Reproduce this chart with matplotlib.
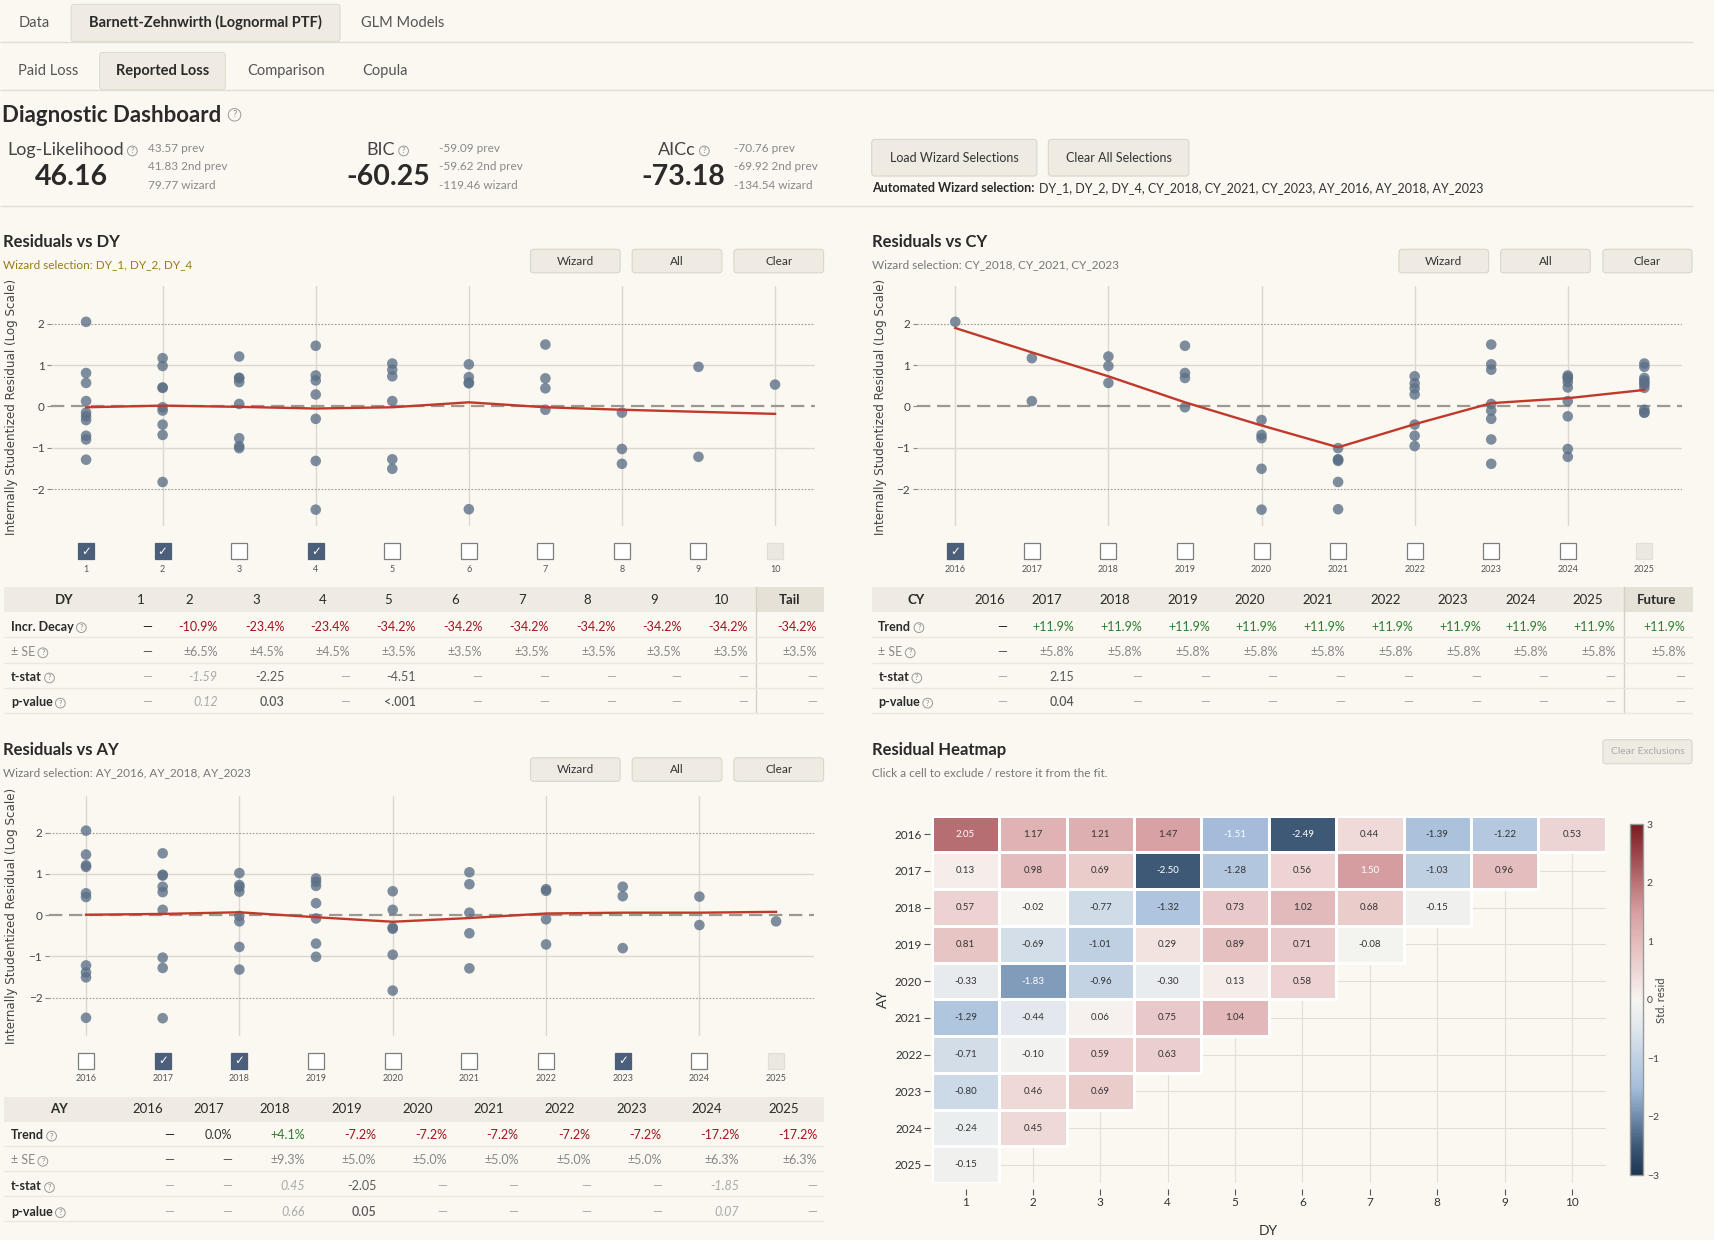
import matplotlib
matplotlib.use("Agg")
import matplotlib.pyplot as plt
import matplotlib.transforms as mtransforms
import numpy as np
from matplotlib.patches import Rectangle, FancyBboxPatch
from matplotlib.colors import LinearSegmentedColormap, Normalize
from matplotlib.cm import ScalarMappable

plt.rcParams["font.family"] = ["Lato", "DejaVu Sans"]

# ---------------- data ----------------
accident_years = [2016, 2017, 2018, 2019, 2020, 2021, 2022, 2023, 2024, 2025]
dev_years = [1, 2, 3, 4, 5, 6, 7, 8, 9, 10]

# internally studentized residuals, one row per accident year
resid = [
    [2.05, 1.17, 1.21, 1.47, -1.51, -2.49, 0.44, -1.39, -1.22, 0.53],
    [0.13, 0.98, 0.69, -2.50, -1.28, 0.56, 1.50, -1.03, 0.96],
    [0.57, -0.02, -0.77, -1.32, 0.73, 1.02, 0.68, -0.15],
    [0.81, -0.69, -1.01, 0.29, 0.89, 0.71, -0.08],
    [-0.33, -1.83, -0.96, -0.30, 0.13, 0.58],
    [-1.29, -0.44, 0.06, 0.75, 1.04],
    [-0.71, -0.10, 0.59, 0.63],
    [-0.80, 0.46, 0.69],
    [-0.24, 0.45],
    [-0.15],
]

# fitted mean lines
dy_fit = [-0.02, 0.02, -0.01, -0.05, -0.02, 0.10, -0.02, -0.08, -0.13, -0.18]
cy_fit = [1.90, 1.31, 0.73, 0.10, -0.46, -0.99, -0.43, 0.08, 0.20, 0.40]
ay_fit = [0.01, 0.03, 0.07, -0.05, -0.16, -0.07, 0.04, 0.06, 0.06, 0.08]

# checkbox states (None = disabled)
dy_checked = [True, True, False, True, False, False, False, False, False, None]
cy_checked = [True, False, False, False, False, False, False, False, False, None]
ay_checked = [False, True, True, False, False, False, False, True, False, None]

metric_names = ["Log-Likelihood", "BIC", "AICc"]
metric_values = ["46.16", "-60.25", "-73.18"]
metric_history = [
    ["43.57 prev", "41.83 2nd prev", "79.77 wizard"],
    ["-59.09 prev", "-59.62 2nd prev", "-119.46 wizard"],
    ["-70.76 prev", "-69.92 2nd prev", "-134.54 wizard"],
]

dy_cols = ["1", "2", "3", "4", "5", "6", "7", "8", "9", "10", "Tail"]
dy_decay = ["—", "-10.9%", "-23.4%", "-23.4%", "-34.2%", "-34.2%", "-34.2%", "-34.2%", "-34.2%", "-34.2%", "-34.2%"]
dy_se = ["—", "±6.5%", "±4.5%", "±4.5%", "±3.5%", "±3.5%", "±3.5%", "±3.5%", "±3.5%", "±3.5%", "±3.5%"]
dy_tstat = ["—", "-1.59", "-2.25", "—", "-4.51", "—", "—", "—", "—", "—", "—"]
dy_pvalue = ["—", "0.12", "0.03", "—", "<.001", "—", "—", "—", "—", "—", "—"]
dy_signif = [False, False, True, False, True, False, False, False, False, False, False]

cy_cols = ["2016", "2017", "2018", "2019", "2020", "2021", "2022", "2023", "2024", "2025", "Future"]
cy_trend = ["—", "+11.9%", "+11.9%", "+11.9%", "+11.9%", "+11.9%", "+11.9%", "+11.9%", "+11.9%", "+11.9%", "+11.9%"]
cy_se = ["—", "±5.8%", "±5.8%", "±5.8%", "±5.8%", "±5.8%", "±5.8%", "±5.8%", "±5.8%", "±5.8%", "±5.8%"]
cy_tstat = ["—", "2.15", "—", "—", "—", "—", "—", "—", "—", "—", "—"]
cy_pvalue = ["—", "0.04", "—", "—", "—", "—", "—", "—", "—", "—", "—"]
cy_signif = [False, True, False, False, False, False, False, False, False, False, False]

ay_cols = ["2016", "2017", "2018", "2019", "2020", "2021", "2022", "2023", "2024", "2025"]
ay_trend = ["—", "0.0%", "+4.1%", "-7.2%", "-7.2%", "-7.2%", "-7.2%", "-7.2%", "-17.2%", "-17.2%"]
ay_se = ["—", "—", "±9.3%", "±5.0%", "±5.0%", "±5.0%", "±5.0%", "±5.0%", "±6.3%", "±6.3%"]
ay_tstat = ["—", "—", "0.45", "-2.05", "—", "—", "—", "—", "-1.85", "—"]
ay_pvalue = ["—", "—", "0.66", "0.05", "—", "—", "—", "—", "0.07", "—"]
ay_signif = [False, False, False, True, False, False, False, False, False, False]

# ---------------- styling ----------------
BG = "#faf8f1"
DARK = "#2a2a2a"
LINE = "#e2ded4"
BTN = "#efebe3"
BTN_EDGE = "#dbd6cb"
HEAD_BG = "#efebe2"
TAIL_BG = "#e6e1d6"
DOT = "#5b6f86"
FIT = "#c0392b"
W, H = 1568, 1134  # layout units

fig = plt.figure(figsize=(17.15, 12.40), dpi=100, facecolor=BG)
canvas = fig.add_axes([0, 0, 1, 1])
canvas.set_xlim(0, W)
canvas.set_ylim(H, 0)
canvas.set_autoscale_on(False)
canvas.axis("off")
renderer = fig.canvas.get_renderer()


def rect(l, t, r, b):
    return [l / W, 1 - b / H, (r - l) / W, (b - t) / H]


def hline(x0, x1, y, color=LINE, lw=1.0):
    canvas.plot([x0, x1], [y, y], color=color, lw=lw, solid_capstyle="butt")


def right_of(t):
    bb = t.get_window_extent(renderer=renderer)
    return canvas.transData.inverted().transform((bb.x1, bb.y0))[0]


def help_icon(x, y, size=5.5):
    canvas.text(x, y, "?", fontsize=size, color="#888", ha="center", va="center",
                bbox=dict(boxstyle="circle,pad=0.18", fc="none", ec="#999", lw=0.7))


def button(x0, y0, x1, y1, label, size=8.5, color="#333"):
    canvas.add_patch(FancyBboxPatch((x0, y0), x1 - x0, y1 - y0,
                                    boxstyle="round,pad=0,rounding_size=3",
                                    fc=BTN, ec=BTN_EDGE, lw=0.8))
    canvas.text((x0 + x1) / 2, (y0 + y1) / 2, label, fontsize=size, color=color,
                ha="center", va="center")


# ---------------- tabs ----------------
canvas.add_patch(FancyBboxPatch((65, 4), 246, 34, boxstyle="round,pad=0,rounding_size=3",
                                fc=HEAD_BG, ec="#e0dbd0", lw=0.8))
canvas.add_patch(FancyBboxPatch((91, 48), 115, 34, boxstyle="round,pad=0,rounding_size=3",
                                fc=HEAD_BG, ec="#e0dbd0", lw=0.8))
hline(0, 1548, 38)
hline(0, W, 82)
for s, x, bold in [("Data", 31, False), ("Barnett-Zehnwirth (Lognormal PTF)", 188, True),
                   ("GLM Models", 368, False)]:
    canvas.text(x, 21, s, fontsize=10.5, ha="center", va="center",
                color=DARK if bold else "#555", fontweight="bold" if bold else "normal")
for s, x, bold in [("Paid Loss", 44, False), ("Reported Loss", 149, True),
                   ("Comparison", 262, False), ("Copula", 352, False)]:
    canvas.text(x, 65, s, fontsize=10.5, ha="center", va="center",
                color=DARK if bold else "#555", fontweight="bold" if bold else "normal")

# ---------------- metrics header ----------------
t = canvas.text(2, 106, "Diagnostic Dashboard", fontsize=16, fontweight="bold",
                color=DARK, va="center")
help_icon(right_of(t) + 12, 105, size=7)

label_right = [113, 361, 636]
value_center = [65, 355, 625]
hist_left = [135, 401, 671]
for name, val, hist, lr, vc, hl in zip(metric_names, metric_values, metric_history,
                                       label_right, value_center, hist_left):
    canvas.text(lr, 137, name, fontsize=13, color="#444", ha="right", va="center")
    help_icon(lr + 8, 138)
    canvas.text(vc, 162, val, fontsize=20.5, fontweight="bold", color=DARK,
                ha="center", va="center")
    for k, h in enumerate(hist):
        canvas.text(hl, 135.5 + 17 * k, h, fontsize=8.5, color="#888", va="center")

button(797, 127.5, 948, 161, "Load Wizard Selections", size=9)
button(958.5, 127.5, 1087, 161, "Clear All Selections", size=9)
t = canvas.text(797, 172, "Automated Wizard selection:", fontsize=9, fontweight="bold",
                color=DARK, va="center")
canvas.text(right_of(t) + 4, 172,
            "DY_1, DY_2, DY_4, CY_2018, CY_2021, CY_2023, AY_2016, AY_2018, AY_2023",
            fontsize=9, color="#333", va="center")
hline(0, 1548, 188)


# ---------------- scatter panels ----------------
def scatter_panel(pos, xlim, ylim, xs, ys, fit_x, fit_y, vlines, checks, cb_labels,
                  cb_y, lab_y, label_frac):
    ax = fig.add_axes(rect(*pos))
    ax.set_facecolor("none")
    for sp in ax.spines.values():
        sp.set_visible(False)
    for v in vlines:
        ax.axvline(v, color="#dcd8cf", lw=1, zorder=0)
    for v in (-1, 1):
        ax.axhline(v, color="#dcd8cf", lw=1, zorder=0)
    for v in (-2, 2):
        ax.axhline(v, color="#a09c94", lw=0.8, ls=(0, (1.5, 1.5)), zorder=0)
    ax.axhline(0, color="#9d9990", lw=1.6, ls=(0, (6, 3)), zorder=1)
    ax.scatter(xs, ys, s=58, c=DOT, alpha=0.78, edgecolors="none", zorder=3)
    ax.plot(fit_x, fit_y, color=FIT, lw=1.7, zorder=4)
    ax.set_xlim(*xlim)
    ax.set_ylim(*ylim)
    ax.set_xticks([])
    ax.set_yticks([-2, -1, 0, 1, 2])
    ax.set_yticklabels(["−2", "−1", "0", "1", "2"])
    ax.tick_params(axis="y", length=3, width=0.8, color="#888", pad=2,
                   labelsize=8.5, labelcolor="#444")
    ax.set_ylabel("Internally Studentized Residual (Log Scale)", fontfamily="DejaVu Sans",
                  fontsize=8.6, color="#444")
    ax.yaxis.set_label_coords(label_frac, 0.5)

    trans = mtransforms.blended_transform_factory(ax.transData, canvas.transData)
    for x, state, lab in zip(fit_x, checks, cb_labels):
        if state is None:
            fc, ec = "#ebe8e0", "#e2dfd7"
        elif state:
            fc, ec = "#4b5f7b", "#4b5f7b"
        else:
            fc, ec = "white", "#7d7d7d"
        canvas.plot([x], [cb_y], marker="s", ms=11.5, mfc=fc, mec=ec, mew=0.9,
                    transform=trans, clip_on=False)
        if state:
            canvas.text(x, cb_y, "✓", transform=trans, color="white", fontsize=8.5,
                        fontweight="bold", ha="center", va="center",
                        fontfamily="DejaVu Sans")
        canvas.text(x, lab_y, lab, transform=trans, fontsize=6.5, color="#555",
                    ha="center", va="center")
    return ax


def panel_header(x, y, title, sub, sub_color, btn_x, btn_y):
    canvas.text(x, y, title, fontsize=12, fontweight="bold", color=DARK, va="center")
    canvas.text(x, y + 21, sub, fontsize=8.5, color=sub_color, va="center")
    for (b0, b1), lab in zip(btn_x, ["Wizard", "All", "Clear"]):
        button(b0, btn_y[0], b1, btn_y[1], lab)


dy_x, dy_y, ay_x, ay_y, cy_x, cy_y = [], [], [], [], [], []
for i, row in enumerate(resid):
    for j, v in enumerate(row):
        dy_x.append(dev_years[j])
        dy_y.append(v)
        ay_x.append(accident_years[i])
        ay_y.append(v)
        cy_x.append(accident_years[i] + j)
        cy_y.append(v)

left_btns = [(485, 567), (578, 660), (671, 753)]
right_btns = [(1279, 1361), (1372, 1454), (1465.5, 1547)]

panel_header(3, 221, "Residuals vs DY", "Wizard selection: DY_1, DY_2, DY_4", "#9a7b16",
             left_btns, (228, 249.5))
scatter_panel((47, 262, 745, 481.4), (0.547, 10.52), (-2.906, 2.906), dy_x, dy_y,
              dev_years, dy_fit, [2, 4, 6, 8, 10], dy_checked,
              [str(d) for d in dev_years], 504.3, 521, -0.044)

panel_header(797, 221, "Residuals vs CY", "Wizard selection: CY_2018, CY_2021, CY_2023",
             "#777", right_btns, (228, 249.5))
scatter_panel((838.4, 262, 1537.7, 481.4), (2015.50, 2025.49), (-2.906, 2.906), cy_x, cy_y,
              accident_years, cy_fit, [2016, 2018, 2020, 2022, 2024], cy_checked,
              [str(y) for y in accident_years], 504.3, 521, -0.039)

panel_header(3, 686, "Residuals vs AY", "Wizard selection: AY_2016, AY_2018, AY_2023",
             "#777", left_btns, (693, 714.5))
scatter_panel((45, 727.6, 744.6, 947), (2015.52, 2025.50), (-2.92, 2.90), ay_x, ay_y,
              accident_years, ay_fit, [2016, 2018, 2020, 2022, 2024], ay_checked,
              [str(y) for y in accident_years], 969.9, 986.3, -0.041)


# ---------------- tables ----------------
def cell_style(v, kind, sig):
    if v == "—":
        return {"trend": "#222", "se": "#555"}.get(kind, "#aaa"), "normal", "normal"
    if kind == "trend":
        if v.startswith("+"):
            return "#2e7d32", "normal", "normal"
        if v.startswith("-"):
            return "#a3131f", "normal", "normal"
        return "#333", "normal", "normal"
    if kind == "se":
        return "#888", "normal", "normal"
    if sig:
        return "#5a5a5a", ("semibold" if kind == "p" else "normal"), "normal"
    return "#aaa", "normal", "italic"


def draw_table(x0, x1, head, rows_y, seps, corner, corner_x, cols, col_xs, val_xs,
               label_x, rows, tail_x=None):
    h0, h1 = head
    canvas.add_patch(Rectangle((x0, h0), x1 - x0, h1 - h0, fc=HEAD_BG, ec="none"))
    if tail_x is not None:
        canvas.add_patch(Rectangle((tail_x, h0), x1 - tail_x, h1 - h0, fc=TAIL_BG, ec="none"))
        canvas.plot([tail_x, tail_x], [h0, seps[-1]], color="#d6d1c6", lw=1)
    hy = (h0 + h1) / 2
    canvas.text(corner_x, hy, corner, fontsize=9.5, fontweight="bold", ha="center",
                va="center", color=DARK)
    for i, (c, cx) in enumerate(zip(cols, col_xs)):
        bold = tail_x is not None and i == len(cols) - 1
        canvas.text(cx, hy, c, fontsize=9.5, fontweight="bold" if bold else "normal",
                    ha="center", va="center", color=DARK)
    for s in seps[1:]:
        hline(x0, x1, s, color="#ebe7dd")
    for (label, kind, values, signif), ry in zip(rows, rows_y):
        t = canvas.text(label_x, ry, label, fontsize=9,
                        fontweight="normal" if kind == "se" else "bold",
                        color="#888" if kind == "se" else DARK, va="center")
        help_icon(right_of(t) + 7, ry + 1)
        for j, (v, vx) in enumerate(zip(values, val_xs)):
            color, weight, style = cell_style(v, kind, signif[j])
            canvas.text(vx, ry, v, fontsize=9, color=color, fontweight=weight,
                        fontstyle=style, ha="right", va="center")


no_sig = [False] * 11
draw_table(4, 753, (537, 560), [573, 596, 619, 642], [560, 583, 606, 629, 652],
           "DY", 59, dy_cols,
           [129, 173, 234, 295, 355, 416, 477, 537, 598, 660, 722],
           [139, 199, 260, 320, 380, 441, 502, 563, 623, 684, 747], 10,
           [("Incr. Decay", "trend", dy_decay, no_sig), ("± SE", "se", dy_se, no_sig),
            ("t-stat", "t", dy_tstat, dy_signif), ("p-value", "p", dy_pvalue, dy_signif)],
           tail_x=691)

draw_table(797, 1548, (537, 560), [573, 596, 619, 642], [560, 583, 606, 629, 652],
           "CY", 838, cy_cols,
           [905, 957, 1019, 1081, 1143, 1205, 1267, 1328, 1390, 1452, 1515],
           [921, 982, 1044, 1106, 1168, 1230, 1292, 1354, 1415, 1477, 1541], 803,
           [("Trend", "trend", cy_trend, no_sig), ("± SE", "se", cy_se, no_sig),
            ("t-stat", "t", cy_tstat, cy_signif), ("p-value", "p", cy_pvalue, cy_signif)],
           tail_x=1485)

draw_table(4, 753, (1003, 1026), [1038, 1061, 1085, 1108], [1026, 1048, 1071, 1094, 1117],
           "AY", 54, ay_cols,
           [135, 191, 251, 317, 382, 447, 512, 578, 646, 717],
           [159, 212, 279, 344, 409, 474, 540, 605, 676, 747], 10,
           [("Trend", "trend", ay_trend, no_sig), ("± SE", "se", ay_se, no_sig),
            ("t-stat", "t", ay_tstat, ay_signif), ("p-value", "p", ay_pvalue, ay_signif)])

# ---------------- heatmap ----------------
canvas.text(797, 686, "Residual Heatmap", fontsize=12, fontweight="bold", color=DARK,
            va="center")
canvas.text(797, 707, "Click a cell to exclude / restore it from the fit.", fontsize=8.5,
            color="#777", va="center")
button(1465.5, 676.5, 1547, 698.5, "Clear Exclusions", size=7.5, color="#aaa")

cmap = LinearSegmentedColormap.from_list("resid", [
    (0.0, "#1d3352"), (0.5 / 6, "#3d5976"), (1 / 6, "#718cab"), (1.5 / 6, "#a6bedb"),
    (2 / 6, "#c1d1e3"), (2.5 / 6, "#dfe6ec"), (0.5, "#f7f5f1"), (3.5 / 6, "#eed6d5"),
    (4 / 6, "#e3bbbc"), (4.5 / 6, "#d79fa2"), (5 / 6, "#bb7477"), (5.5 / 6, "#9c454b"),
    (1.0, "#7b1c22")])
norm = Normalize(-3, 3)

hax = fig.add_axes(rect(852, 746, 1468, 1082))
hax.set_facecolor("none")
hax.set_axisbelow(True)
hax.grid(True, color="#e3dfd5", lw=0.8)
x_edges = np.arange(len(dev_years) + 1) + 0.5
y_edges = np.arange(len(accident_years) + 1) + accident_years[0] - 0.5
for i, row in enumerate(resid):
    # only the observed cells of each accident year get a coloured tile
    hax.pcolormesh(x_edges[:len(row) + 1], y_edges[i:i + 2], np.array([row]),
                   cmap=cmap, norm=norm, edgecolors="white", linewidth=1.0, zorder=2)
    for j, v in enumerate(row):
        hax.text(dev_years[j], accident_years[i], f"{v:.2f}", ha="center", va="center",
                 fontsize=7, color="white" if abs(v) >= 1.5 else "#333", zorder=3)
hax.set_xlim(0.5, 10.5)
hax.set_ylim(accident_years[-1] + 0.5, accident_years[0] - 0.5)
hax.set_xticks(dev_years)
hax.set_yticks(accident_years)
for sp in hax.spines.values():
    sp.set_visible(False)
hax.spines["bottom"].set_position(("outward", 4))
hax.spines["left"].set_position(("outward", 1))
hax.tick_params(length=4, width=0.8, color="#555", labelsize=8.5, labelcolor="#333", pad=2)
hax.set_xlabel("DY", fontsize=10, color="#333", labelpad=12)
hax.set_ylabel("AY", fontsize=10, color="#333", labelpad=4)

cax = fig.add_axes(rect(1490, 754, 1502, 1075))
cb = fig.colorbar(ScalarMappable(norm=norm, cmap=cmap), cax=cax)
cb.outline.set_edgecolor("#999")
cb.outline.set_linewidth(1)
cb.set_ticks([-3, -2, -1, 0, 1, 2, 3])
cb.set_ticklabels(["−3", "−2", "−1", "0", "1", "2", "3"])
cax.tick_params(length=0, labelsize=7.5, labelcolor="#444", pad=3)
cb.set_label("Std. resid", fontsize=8, color="#444", labelpad=-2)

fig.savefig("out.png", dpi=100, facecolor=BG)
